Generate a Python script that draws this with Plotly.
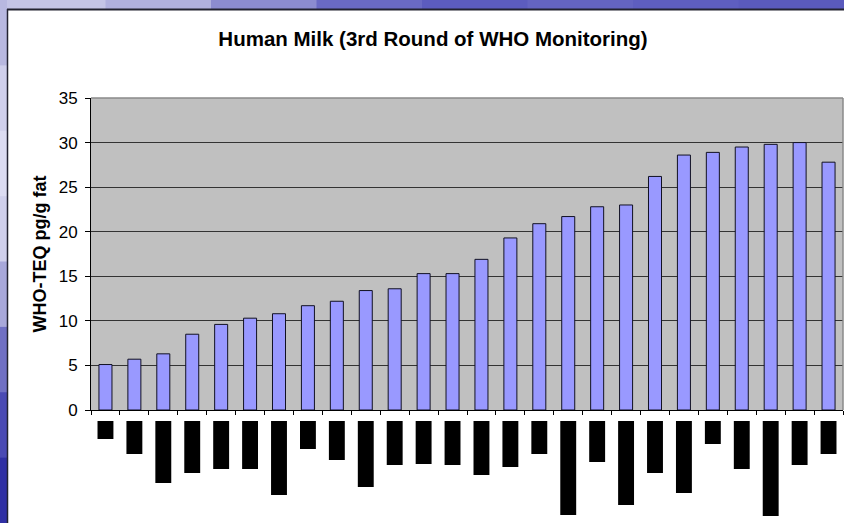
import plotly.graph_objects as go

# Countries (labels are blacked out in the source picture)
paises = [f"C{i}" for i in range(1, 27)]

# WHO-TEQ pg/g fat per country
teq = [5.1, 5.7, 6.3, 8.5, 9.6, 10.3, 10.8, 11.7, 12.2, 13.4, 13.6, 15.3, 15.3,
       16.9, 19.3, 20.9, 21.7, 22.8, 23.0, 26.2, 28.6, 28.9, 29.5, 29.8, 30.0, 27.8]

# Length of the redacted (black) country labels under the axis
rotulo_len = [18, 33, 62, 52, 48, 48, 74, 28, 39, 66, 44, 43, 44,
              54, 46, 33, 94, 41, 84, 52, 72, 23, 48, 95, 44, 33]

# Slide background gradient stops (top strip, left strip)
cores_topo = ["#c4c4e6", "#b0b0de", "#8c8cd0", "#6a6ac4", "#5c5cbf", "#6464c2", "#5e5ec0", "#5a5abd"]
cores_esq = ["#b8b8e0", "#cfcfec", "#dcdcf2", "#d0d0ec", "#a8a8da", "#7070c4", "#4a4ab4", "#3030a4"]

W, H = 844, 523
L, R, T, B = 91, 1, 98, 0
pw, ph = W - L - R, H - T - B


def px_x(px):
    return (px - L) / pw


def px_y(py):
    return (H - B - py) / ph


fig = go.Figure()

fig.add_trace(go.Bar(
    x=paises, y=teq, width=0.45,
    marker=dict(color="#9999ff", line=dict(color="#111122", width=1)),
    xaxis="x", yaxis="y", showlegend=False,
))

fig.add_trace(go.Bar(
    x=paises, y=rotulo_len, width=0.55,
    marker=dict(color="#000000", line=dict(width=0)),
    xaxis="x", yaxis="y2", showlegend=False,
))

shapes = []
# fundo cinza da área do gráfico
shapes.append(dict(type="rect", xref="x domain", yref="y domain", x0=0, x1=1, y0=0, y1=1,
                   fillcolor="#c0c0c0", line=dict(width=0), layer="below"))
# borda cinza superior e direita
shapes.append(dict(type="line", xref="x domain", yref="y domain", x0=0, x1=1, y0=1, y1=1,
                   line=dict(color="#8a8a8a", width=1.5), layer="above"))
shapes.append(dict(type="line", xref="x domain", yref="y domain", x0=1, x1=1, y0=0, y1=1,
                   line=dict(color="#8a8a8a", width=1.5), layer="above"))

# faixa azul do slide (topo)
n = len(cores_topo)
for i, c in enumerate(cores_topo):
    shapes.append(dict(type="rect", xref="paper", yref="paper",
                       x0=px_x(i * W / n), x1=px_x((i + 1) * W / n + 1),
                       y0=px_y(9), y1=px_y(0), fillcolor=c, line=dict(width=0), layer="below"))
n = len(cores_esq)
for i, c in enumerate(cores_esq):
    shapes.append(dict(type="rect", xref="paper", yref="paper",
                       x0=px_x(0), x1=px_x(7),
                       y0=px_y((i + 1) * H / n + 1), y1=px_y(i * H / n),
                       fillcolor=c, line=dict(width=0), layer="below"))
# borda escura do painel
shapes.append(dict(type="line", xref="paper", yref="paper", x0=px_x(7), x1=px_x(W),
                   y0=px_y(9.5), y1=px_y(9.5), line=dict(color="#222230", width=2)))
shapes.append(dict(type="line", xref="paper", yref="paper", x0=px_x(7.5), x1=px_x(7.5),
                   y0=px_y(9), y1=px_y(H), line=dict(color="#222230", width=1.5)))

fig.update_layout(
    width=W, height=H,
    margin=dict(l=L, r=R, t=T, b=B, autoexpand=False),
    paper_bgcolor="#ffffff", plot_bgcolor="rgba(0,0,0,0)",
    font=dict(family="Arial, Liberation Sans, sans-serif", color="#000000"),
    title=dict(text="<b>Human Milk (3rd Round of WHO Monitoring)</b>",
               x=433 / W, xref="container", xanchor="center",
               y=1 - 39 / H, yref="container", yanchor="middle",
               font=dict(size=20.5, color="#000000")),
    xaxis=dict(anchor="y", showticklabels=False, tickson="boundaries", ticks="outside",
               ticklen=4, tickcolor="#000000", tickwidth=1, showline=True,
               linecolor="#000000", linewidth=1, showgrid=False, range=[-0.5, 25.5]),
    yaxis=dict(domain=[px_y(410), 1], range=[0, 35], dtick=5, ticks="outside", ticklen=5,
               tickcolor="#000000", showline=True, linecolor="#000000", linewidth=1,
               showgrid=True, gridcolor="#333333", gridwidth=1, zeroline=False,
               tickfont=dict(size=17), ticklabelstandoff=4,
               title=dict(text="<b>WHO-TEQ pg/g fat</b>", font=dict(size=18), standoff=7)),
    yaxis2=dict(domain=[0, px_y(421)], range=[102, 0], visible=False, anchor="x"),
    shapes=shapes,
)

# remove the default 8px page margin so the figure fills the window
fig.write_html("out.html", config={"displayModeBar": False},
               post_script="document.body.style.margin='0';")
